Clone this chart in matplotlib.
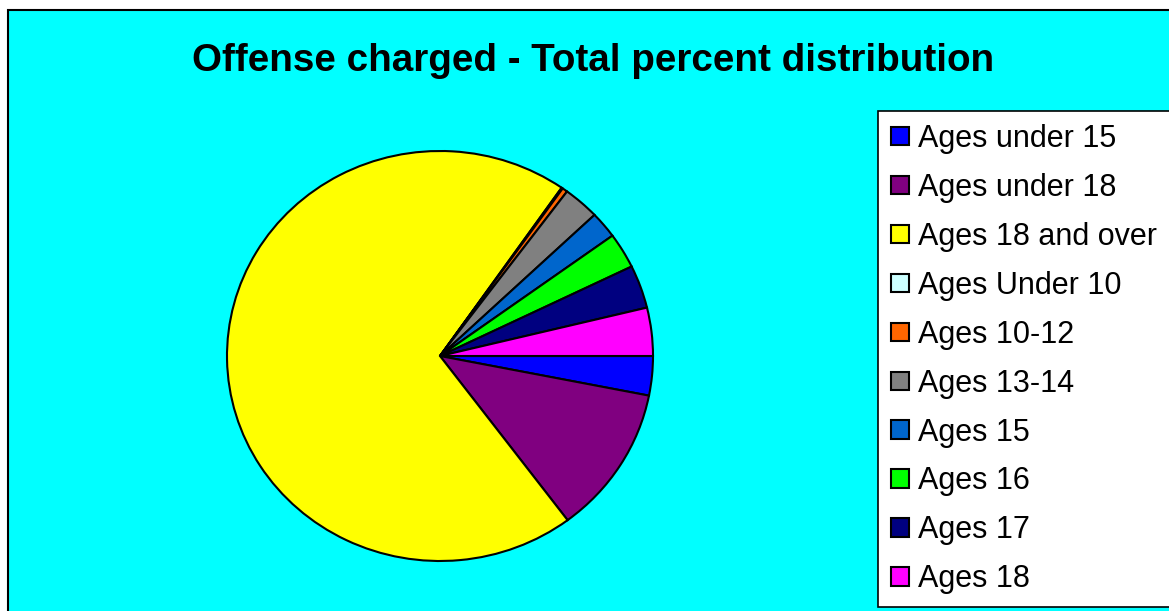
import matplotlib.pyplot as plt
from matplotlib.patches import Patch, Rectangle

labels = ['Ages under 15', 'Ages under 18', 'Ages 18 and over', 'Ages Under 10',
          'Ages 10-12', 'Ages 13-14', 'Ages 15', 'Ages 16', 'Ages 17', 'Ages 18']
values = [3.1, 11.7, 70.0, 0.1, 0.4, 2.75, 2.1, 2.8, 3.4, 3.8]
colors = ['#0000FF', '#800080', '#FFFF00', '#CCFFFF', '#FF6600',
          '#808080', '#0066CC', '#00FF00', '#000080', '#FF00FF']

plt.rcParams['font.family'] = ['Liberation Sans', 'DejaVu Sans']

W, H = 1169, 611
fig = plt.figure(figsize=(W / 100, H / 100), dpi=100)
fig.patch.set_facecolor('white')

# cyan chart area, running off the right and bottom edges
fig.patches.append(Rectangle((8 / W, -0.05), 1.1, (H - 10) / H + 0.05,
                             transform=fig.transFigure, facecolor='#00FFFF',
                             edgecolor='black', linewidth=1.5, zorder=-1))

fig.text(593 / W, 1 - 71 / H, 'Offense charged - Total percent distribution',
         ha='center', va='baseline', fontsize=27.8, fontweight='bold')

# pie is a little wider than tall
cx, cy, rx, ry = 440, 356, 213, 205
ax = fig.add_axes([(cx - rx) / W, (H - cy - ry) / H, 2 * rx / W, 2 * ry / H])
ax.set_zorder(1)
ax.pie(values, colors=colors, startangle=0, counterclock=False,
       wedgeprops=dict(edgecolor='black', linewidth=1.5))
ax.set_aspect('auto')
ax.set_xlim(-1, 1)
ax.set_ylim(-1, 1)
ax.axis('off')

handles = [Patch(facecolor=c, edgecolor='black', linewidth=1.5) for c in colors]
leg = fig.legend(handles, labels, loc='upper left',
                 bbox_to_anchor=(878 / W, 1 - 111 / H), fontsize=22,
                 frameon=True, fancybox=False, framealpha=1, edgecolor='black',
                 handlelength=0.6, handleheight=0.55, handletextpad=0.28,
                 labelspacing=0.62, borderpad=0.42, borderaxespad=0)
leg.get_frame().set_linewidth(1.2)
leg.set_zorder(2)

fig.savefig('out.png', dpi=100)
